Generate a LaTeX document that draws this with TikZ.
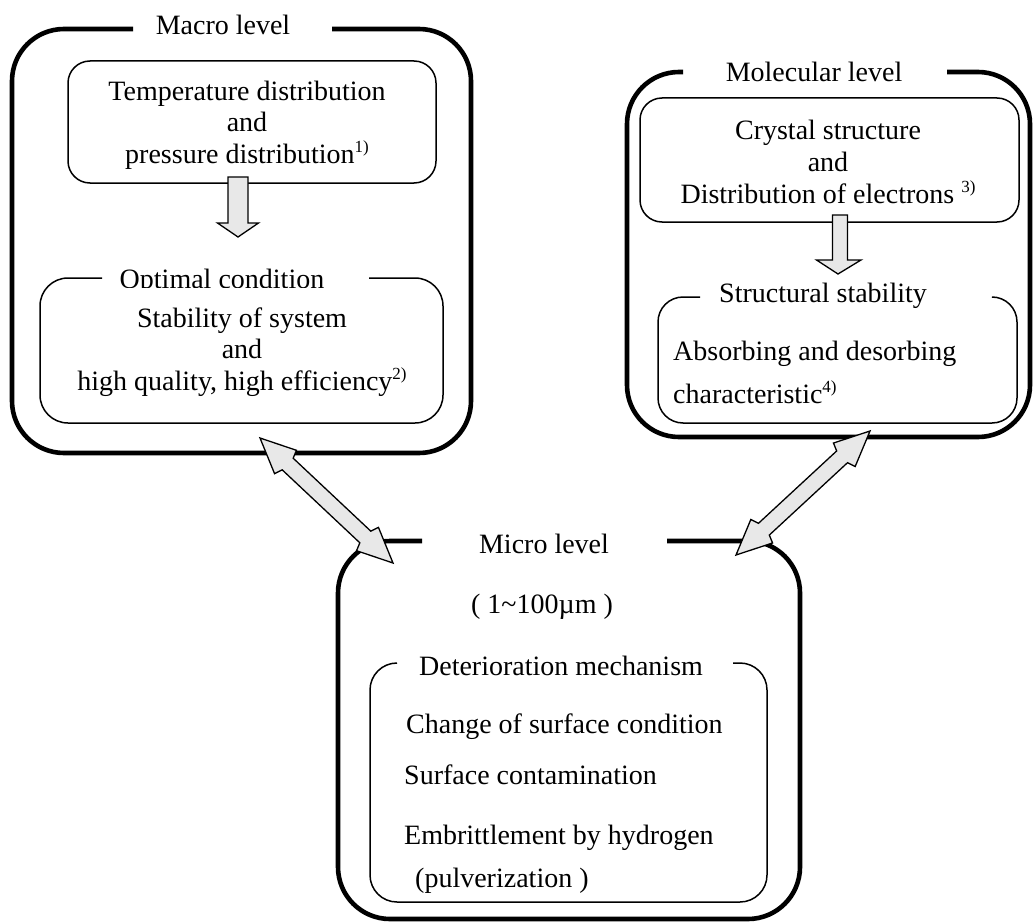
\documentclass[tikz,border=0pt]{standalone}
\usepackage{fontspec}
\setmainfont{Liberation Serif}
\usepackage{tikz}
\usetikzlibrary{calc}
\definecolor{arrowGray}{HTML}{E8E8E8}
\newcommand{\lvlfont}{\fontsize{28}{31.6}\selectfont}
\newcommand{\refmark}[1]{\raisebox{11pt}{\fontsize{17}{17}\selectfont #1}}
% flecha doble entre dos puntos (puntas en #1 y #2)
\newcommand{\dblblock}[2]{%
  \draw[blockarrow] (#1)
    -- ($(#1)!35pt!(#2)!16pt!90:(#2)$) -- ($(#1)!38pt!(#2)!8pt!90:(#2)$)
    -- ($(#2)!38pt!(#1)!8pt!-90:(#1)$) -- ($(#2)!35pt!(#1)!16pt!-90:(#1)$)
    -- (#2)
    -- ($(#2)!35pt!(#1)!16pt!90:(#1)$) -- ($(#2)!38pt!(#1)!8pt!90:(#1)$)
    -- ($(#1)!38pt!(#2)!8pt!-90:(#2)$) -- ($(#1)!35pt!(#2)!16pt!-90:(#2)$)
    -- cycle;}

\begin{document}
\begin{tikzpicture}[
  x=1pt, y=-1pt,
  font=\lvlfont,
  txt/.style={inner sep=0pt},
  outerframe/.style={line width=4.6pt, rounded corners=52pt},
  innerframe/.style={line width=1.5pt, rounded corners=22pt},
  blockarrow/.style={draw=black, fill=arrowGray, line width=1.3pt, line join=miter}
]
  \useasboundingbox (0,0) rectangle (1033,923);

  % --- Macro level ---
  \draw[outerframe] (332,29) -- (471,29) -- (471,453) -- (12,453) -- (12,29) -- (133,29);
  \node[txt, anchor=base] (macroTitle) at (223,35) {Macro level};
  \draw[innerframe] (68,61) rectangle (436,183);
  \node[txt, align=center] (tempDist) at (247,125)
    {Temperature distribution\\and\\pressure distribution\refmark{1)}};
  \draw[innerframe, rounded corners=28pt] (369,278) -- (443,278) -- (443,423) -- (40,423) -- (40,278) -- (102,278);
  \begin{scope}
    \clip (100,255) rectangle (380,287);
    \node[txt, anchor=base] (optTitle) at (222,288.5) {Optimal condition};
  \end{scope}
  \node[txt, align=center] (stabSys) at (242,352)
    {Stability of system\\and\\high quality, high efficiency\refmark{2)}};

  % --- Molecular level ---
  \draw[outerframe] (947,72) -- (1030,72) -- (1030,437) -- (627,437) -- (627,72) -- (683,72);
  \node[txt, anchor=base] (molTitle) at (814,82) {Molecular level};
  \draw[innerframe] (640,98) rectangle (1019,222);
  \node[txt, align=center] (crystal) at (828,162)
    {Crystal structure\\and\\Distribution of electrons \refmark{3)}};
  \draw[innerframe, rounded corners=25pt] (993,297) -- (1017,297) -- (1017,423) -- (658,423) -- (658,297) -- (700,297);
  \node[txt, anchor=base] (structTitle) at (823,302) {Structural stability};
  \node[txt, anchor=base west] (absorb1) at (673,360) {Absorbing and desorbing};
  \node[txt, anchor=base west] (absorb2) at (673,403) {characteristic\refmark{4)}};

  % --- Micro level ---
  \draw[outerframe] (667,541) -- (800,541) -- (800,919) -- (338,919) -- (338,541) -- (422,541);
  \node[txt, anchor=base] (microTitle) at (544,553) {Micro level};
  \node[txt, anchor=base] (microSize) at (542,613) {( 1\textasciitilde100µm )};
  \draw[innerframe, rounded corners=27pt] (733,663) -- (767,663) -- (767,902) -- (370,902) -- (370,663) -- (397,663);
  \node[txt, anchor=base] (detTitle) at (561,675) {Deterioration mechanism};
  \node[txt, anchor=base west] (det1) at (406,733) {Change of surface condition};
  \node[txt, anchor=base west] (det2) at (404,784) {Surface contamination};
  \node[txt, anchor=base west] (det3) at (404,844) {Embrittlement by hydrogen};
  \node[txt, anchor=base west] (det4) at (415,887) {(pulverization )};

  % --- Flechas internas ---
  \coordinate (macroArr) at (238,177);
  \coordinate (molArr) at (840,215);
  \begin{scope}[shift={(macroArr)}]
    \draw[blockarrow] (-10,0) -- (-10,46) -- (-20.5,46) -- (0,60) -- (20.5,46) -- (10,46) -- (10,0) -- cycle;
  \end{scope}
  \begin{scope}[shift={(molArr)}]
    \draw[blockarrow] (-7.5,0) -- (-7.5,45) -- (-23.5,45) -- (-2,59) -- (21,45) -- (7.5,45) -- (7.5,0) -- cycle;
  \end{scope}

  % --- Flechas dobles entre niveles ---
  \coordinate (macroLink) at (260,438);
  \coordinate (microLinkL) at (393,563);
  \coordinate (molLink) at (870,431);
  \coordinate (microLinkR) at (736,555);
  \dblblock{macroLink}{microLinkL}
  \dblblock{molLink}{microLinkR}

\end{tikzpicture}
\end{document}
